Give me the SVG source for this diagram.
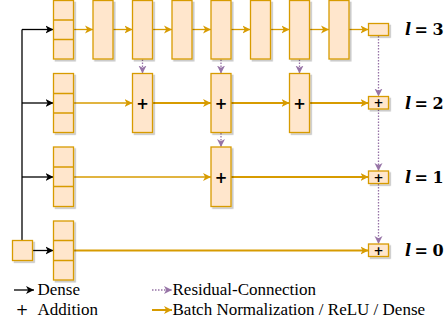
<svg xmlns="http://www.w3.org/2000/svg" width="448" height="326" viewBox="0 0 448 326">
<defs>
<style>
.b{fill:#ffe6cc;stroke:#d79b00;stroke-width:1.3;filter:url(#sh)}
.d{stroke:#d79b00;stroke-width:1.3;fill:none}
.o{stroke:#d79b00;stroke-width:1.3;fill:none;marker-end:url(#ao)}
.ot{stroke:#d79b00;stroke-width:2;fill:none;marker-end:url(#ao)}
.k{stroke:#000;stroke-width:1.3;fill:none}
.ka{stroke:#000;stroke-width:1.3;fill:none;marker-end:url(#ak)}
.p{stroke:#9673a6;stroke-width:1.3;stroke-dasharray:1.5 1.5;fill:none;marker-end:url(#ap)}
.pl{font-family:"DejaVu Sans","Liberation Sans",sans-serif;font-weight:bold;font-size:15px;text-anchor:middle;fill:#000}
.plS{font-family:"DejaVu Sans","Liberation Sans",sans-serif;font-weight:bold;font-size:12px;text-anchor:middle;fill:#000}
.lg{font-family:"Liberation Serif",serif;font-size:17px;fill:#000}
.lv{font-family:"DejaVu Serif",serif;font-weight:bold;font-size:16px;fill:#000}
</style>
<filter id="sh" x="-20%" y="-20%" width="150%" height="150%">
<feDropShadow dx="1.8" dy="1.8" stdDeviation="0.4" flood-color="#000" flood-opacity="0.22"/>
</filter>
<marker id="ao" markerUnits="userSpaceOnUse" markerWidth="10" markerHeight="10" viewBox="0 0 10 10" refX="8" refY="5" orient="auto">
<path d="M0,1 L8,5 L0,9 L2.2,5 z" fill="#d79b00"/>
</marker>
<marker id="ak" markerUnits="userSpaceOnUse" markerWidth="10" markerHeight="10" viewBox="0 0 10 10" refX="8" refY="5" orient="auto">
<path d="M0,1 L8,5 L0,9 L2.2,5 z" fill="#000"/>
</marker>
<marker id="ap" markerUnits="userSpaceOnUse" markerWidth="10" markerHeight="10" viewBox="0 0 10 10" refX="8" refY="5" orient="auto">
<path d="M0,1 L8,5 L0,9 L2.2,5 z" fill="#9673a6"/>
</marker>
</defs>
<rect width="448" height="326" fill="#fff"/>

<g id="connectors">
<!-- dense (black) -->
<path class="k" d="M22,240.5 V29.5"/>
<path class="ka" d="M22,29.5 H53.5"/>
<path class="ka" d="M22,103 H53.5"/>
<path class="ka" d="M22,177 H53.5"/>
<path class="ka" d="M32.5,250.5 H53.5"/>
<!-- row 3 -->
<path class="o" d="M73.5,29.5 H93"/>
<path class="o" d="M113,29.5 H132.5"/>
<path class="o" d="M152.5,29.5 H172"/>
<path class="o" d="M192,29.5 H211"/>
<path class="o" d="M231,29.5 H250.5"/>
<path class="o" d="M270.5,29.5 H289.5"/>
<path class="o" d="M309.5,29.5 H329"/>
<path class="o" d="M349,29.5 H368.5"/>
<!-- row 2 -->
<path class="o" d="M73.5,103 H132.5"/>
<path class="ot" d="M152.5,103 H211"/>
<path class="ot" d="M231,103 H289.5"/>
<path class="ot" d="M309.5,103 H368.5"/>
<!-- row 1 -->
<path class="o" d="M73.5,177 H211"/>
<path class="ot" d="M231,177 H368.5"/>
<!-- row 0 -->
<path class="ot" d="M73.5,250.5 H368.5"/>
<!-- residual -->
<path class="p" d="M142.5,59.5 V73.5"/>
<path class="p" d="M221,59.5 V73.5"/>
<path class="p" d="M299.5,59.5 V73.5"/>
<path class="p" d="M221,133 V147"/>
<path class="p" d="M378.5,36 V96.5"/>
<path class="p" d="M378.5,109.5 V171"/>
<path class="p" d="M378.5,184 V244"/>
</g>

<g id="input"><rect class="b" x="12.5" y="240.5" width="20" height="20"/></g>

<!-- left stacks -->
<g id="stack3"><rect class="b" x="53.5" y="0.5" width="20" height="58.5"/><path class="d" d="M53.5,20 H73.5 M53.5,39.5 H73.5"/></g>
<g id="stack2"><rect class="b" x="53.5" y="73.5" width="20" height="59"/><path class="d" d="M53.5,93.5 H73.5 M53.5,113 H73.5"/></g>
<g id="stack1"><rect class="b" x="53.5" y="147" width="20" height="59.5"/><path class="d" d="M53.5,167 H73.5 M53.5,186.5 H73.5"/></g>
<g id="stack0"><rect class="b" x="53.5" y="221" width="20" height="59"/><path class="d" d="M53.5,240.5 H73.5 M53.5,260.5 H73.5"/></g>

<!-- row 3 layers -->
<g id="r3c1"><rect class="b" x="93" y="0.5" width="20" height="58.5"/></g>
<g id="r3c2"><rect class="b" x="132.5" y="0.5" width="20" height="58.5"/></g>
<g id="r3c3"><rect class="b" x="172" y="0.5" width="20" height="58.5"/></g>
<g id="r3c4"><rect class="b" x="211" y="0.5" width="20" height="58.5"/></g>
<g id="r3c5"><rect class="b" x="250.5" y="0.5" width="20" height="58.5"/></g>
<g id="r3c6"><rect class="b" x="289.5" y="0.5" width="20" height="58.5"/></g>
<g id="r3c7"><rect class="b" x="329" y="0.5" width="20" height="58.5"/></g>
<g id="out3"><rect class="b" x="368.5" y="23.5" width="20" height="12"/></g>

<!-- row 2 -->
<g id="r2a"><rect class="b" x="132.5" y="73.5" width="20" height="59"/><text class="pl" x="142.5" y="108.5">+</text></g>
<g id="r2b"><rect class="b" x="211" y="73.5" width="20" height="59"/><text class="pl" x="221" y="108.5">+</text></g>
<g id="r2c"><rect class="b" x="289.5" y="73.5" width="20" height="59"/><text class="pl" x="299.5" y="108.5">+</text></g>
<g id="out2"><rect class="b" x="368.5" y="96.5" width="20" height="12.5"/><text class="plS" x="378.5" y="107.2">+</text></g>

<!-- row 1 -->
<g id="r1a"><rect class="b" x="211" y="147" width="20" height="59.5"/><text class="pl" x="221" y="182.5">+</text></g>
<g id="out1"><rect class="b" x="368.5" y="171" width="20" height="12.5"/><text class="plS" x="378.5" y="181.7">+</text></g>

<!-- row 0 -->
<g id="out0"><rect class="b" x="368.5" y="244" width="20" height="12.5"/><text class="plS" x="378.5" y="254.7">+</text></g>

<!-- level labels -->
<g id="lab3"><text class="lv" y="35"><tspan x="405" font-style="italic">l</tspan><tspan x="414.5">=</tspan><tspan x="432.5">3</tspan></text></g>
<g id="lab2"><text class="lv" y="108.5"><tspan x="405" font-style="italic">l</tspan><tspan x="414.5">=</tspan><tspan x="432.5">2</tspan></text></g>
<g id="lab1"><text class="lv" y="182.5"><tspan x="405" font-style="italic">l</tspan><tspan x="414.5">=</tspan><tspan x="432.5">1</tspan></text></g>
<g id="lab0"><text class="lv" y="256"><tspan x="405" font-style="italic">l</tspan><tspan x="414.5">=</tspan><tspan x="432.5">0</tspan></text></g>

<!-- legend -->
<g id="legend">
<path class="ka" d="M14,290 H34"/>
<text class="lg" x="37.5" y="295">Dense</text>
<text class="pl" x="22" y="315" style="font-weight:normal;font-size:15px">+</text>
<text class="lg" x="37.5" y="315">Addition</text>
<path class="p" d="M152,290 H172"/>
<text class="lg" x="172.5" y="295">Residual-Connection</text>
<path class="ot" d="M152,310 H172"/>
<text class="lg" x="172.5" y="315">Batch Normalization / ReLU / Dense</text>
</g>
</svg>
